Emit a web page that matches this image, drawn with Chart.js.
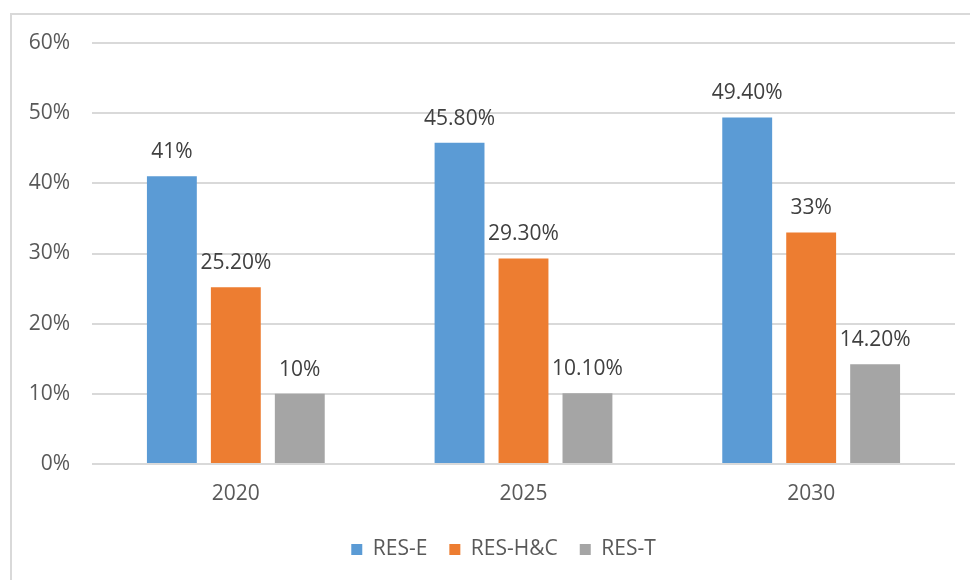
<!DOCTYPE html>
<html>
<head>
<meta charset="utf-8">
<script src="https://cdn.jsdelivr.net/npm/chart.js@4"></script>
<style>
  html, body { margin: 0; padding: 0; background: #fff; }
  #wrap { width: 970px; height: 580px; position: relative; }
</style>
</head>
<body>
<div id="wrap"><canvas id="chart" width="970" height="580"></canvas></div>
<script>
const years = ["2020", "2025", "2030"];
const resE = [41, 45.8, 49.4];
const resHC = [25.2, 29.3, 33];
const resT = [10, 10.1, 14.2];
const seriesNames = ["RES-E", "RES-H&C", "RES-T"];
const colors = ["#5B9BD5", "#ED7D31", "#A5A5A5"];

const font = "'Open Sans', 'Segoe UI', sans-serif";

// 41 -> "41%", 25.2 -> "25.20%"
function pct(v) {
  return Number.isInteger(v) ? v + "%" : v.toFixed(2) + "%";
}

const frame = {
  id: "frame",
  beforeDraw(chart) {
    const ctx = chart.ctx;
    ctx.save();
    ctx.strokeStyle = "#d9d9d9";
    ctx.lineWidth = 2;
    ctx.strokeRect(11, 14, chart.width + 10, chart.height + 10);
    ctx.restore();
  }
};

// legend sits a little right of the page centre, under the plot
const legendShift = {
  id: "legendShift",
  afterLayout(chart) {
    chart.legend.left += 20;
    chart.legend.right += 20;
  }
};

const valueLabels = {
  id: "valueLabels",
  afterDatasetsDraw(chart) {
    const ctx = chart.ctx;
    ctx.save();
    ctx.font = "21px " + font;
    ctx.fillStyle = "#404040";
    ctx.textAlign = "center";
    ctx.textBaseline = "alphabetic";
    chart.data.datasets.forEach((ds, i) => {
      chart.getDatasetMeta(i).data.forEach((bar, j) => {
        ctx.fillText(pct(ds.data[j]), bar.x, bar.y - 18);
      });
    });
    ctx.restore();
  }
};

new Chart(document.getElementById("chart"), {
  type: "bar",
  data: {
    labels: years,
    datasets: [resE, resHC, resT].map((d, i) => ({
      label: seriesNames[i],
      data: d,
      backgroundColor: colors[i],
      borderWidth: 0,
      categoryPercentage: 0.667,
      barPercentage: 0.78
    }))
  },
  options: {
    responsive: false,
    animation: false,
    layout: { padding: { top: 43, right: 15, bottom: 10, left: 12 } },
    plugins: {
      tooltip: { enabled: false },
      legend: {
        position: "bottom",
        labels: {
          color: "#595959",
          font: { family: font, size: 21 },
          boxWidth: 11,
          boxHeight: 11,
          padding: 22
        }
      }
    },
    scales: {
      x: {
        grid: { display: false },
        border: { display: false },
        ticks: { color: "#595959", font: { family: font, size: 21 }, padding: 9 },
        afterFit(scale) { scale.height = 53; }
      },
      y: {
        min: 0,
        max: 60,
        border: { display: false },
        grid: { color: "#d9d9d9", lineWidth: 2, drawTicks: false },
        ticks: {
          stepSize: 10,
          color: "#595959",
          font: { family: font, size: 21 },
          padding: 22,
          callback: v => v + "%"
        },
        afterFit(scale) { scale.width = 80; }
      }
    }
  },
  plugins: [frame, legendShift, valueLabels]
});
</script>
</body>
</html>
